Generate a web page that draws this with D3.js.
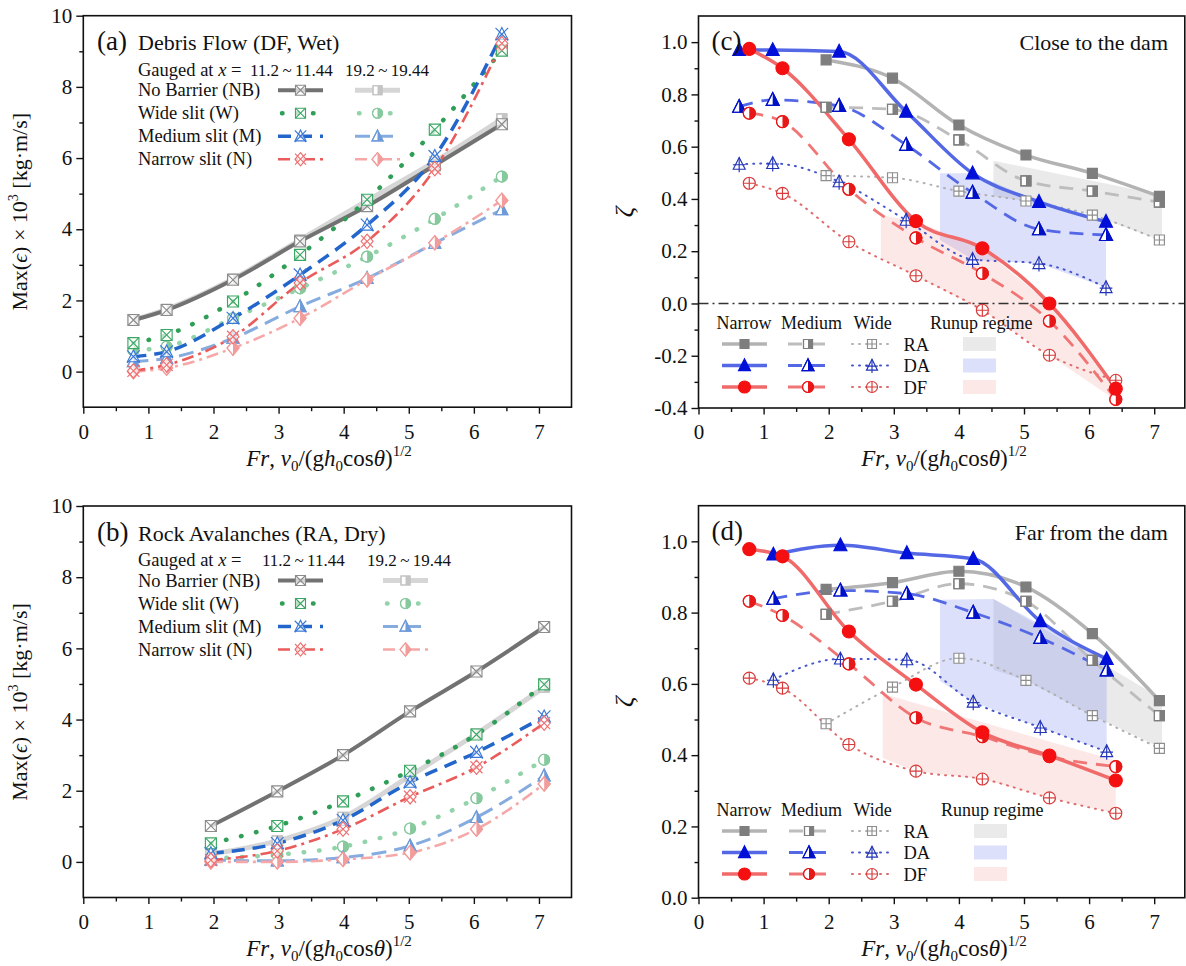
<!DOCTYPE html>
<html><head><meta charset="utf-8">
<script src="https://cdn.jsdelivr.net/npm/d3@7"></script>
<style>
body{margin:0;background:#fff;}
svg{display:block;font-family:"Liberation Serif","Times New Roman",serif;}
</style></head><body>
<svg id="fig" width="1186" height="966"></svg>
<script>
// ---------------- data: momentum flux, panels (a) and (b) ----------------
const FR_A = [0.77, 1.28, 2.30, 3.33, 4.36, 5.40, 6.43];
const A_NB_NEAR = [1.45, 1.73, 2.58, 3.66, 4.65, 5.80, 6.95];
const A_NB_FAR  = [1.45, 1.75, 2.60, 3.70, 4.80, 5.90, 7.10];
const A_W_NEAR  = [0.80, 1.03, 1.97, 3.28, 4.83, 6.80, 9.02];
const A_W_FAR   = [0.60, 0.70, 1.50, 2.34, 3.23, 4.29, 5.48];
const A_M_NEAR  = [0.42, 0.56, 1.50, 2.72, 4.12, 6.05, 9.48];
const A_M_FAR   = [0.28, 0.37, 0.94, 1.83, 2.62, 3.61, 4.55];
const A_N_NEAR  = [0.02, 0.19, 0.98, 2.49, 3.66, 5.70, 9.22];
const A_N_FAR   = [0.00, 0.10, 0.66, 1.50, 2.58, 3.62, 4.81];

const FR_B = [1.96, 2.98, 3.99, 5.02, 6.04, 7.08];
const B_NB_NEAR = [1.01, 1.98, 3.00, 4.23, 5.35, 6.60];
const B_NB_FAR  = [0.22, 0.59, 1.25, 2.42, 3.60, 4.91];
const B_W_NEAR  = [0.52, 1.01, 1.70, 2.56, 3.58, 4.99];
const B_W_FAR   = [0.10, 0.20, 0.43, 0.94, 1.79, 2.87];
const B_M_NEAR  = [0.24, 0.52, 1.17, 2.24, 3.08, 4.08];
const B_M_FAR   = [0.05, 0.03, 0.12, 0.45, 1.25, 2.42];
const B_N_NEAR  = [0.05, 0.31, 0.92, 1.83, 2.66, 3.90];
const B_N_FAR   = [0.00, 0.00, 0.07, 0.26, 0.92, 2.19];

// ---------------- data: zeta, panels (c) and (d) ----------------
const FR_RA   = [1.96, 2.98, 4.00, 5.03, 6.05, 7.08];
const FR_DA_C = [0.625, 1.14, 2.16, 3.19, 4.21, 5.23, 6.26];
const FR_DA_D = [1.15, 2.18, 3.20, 4.22, 5.25, 6.27];
const FR_DF   = [0.78, 1.29, 2.31, 3.34, 4.36, 5.39, 6.41];

const C_RA_N = [0.932, 0.862, 0.683, 0.568, 0.498, 0.410];
const C_RA_M = [0.751, 0.743, 0.626, 0.469, 0.430, 0.388];
const C_RA_W = [0.489, 0.481, 0.430, 0.392, 0.338, 0.243];
const C_DA_N = [0.970, 0.970, 0.964, 0.734, 0.498, 0.389, 0.313];
const C_DA_M = [0.753, 0.779, 0.756, 0.607, 0.424, 0.284, 0.262];
const C_DA_W = [0.533, 0.536, 0.466, 0.319, 0.169, 0.153, 0.061];
const C_DF_N = [0.974, 0.900, 0.628, 0.315, 0.211, 0.000, -0.326];
const C_DF_M = [0.728, 0.696, 0.437, 0.251, 0.115, -0.067, -0.367];
const C_DF_W = [0.460, 0.421, 0.236, 0.106, -0.026, -0.198, -0.294];

const D_RA_N = [0.865, 0.884, 0.916, 0.872, 0.741, 0.553];
const D_RA_M = [0.795, 0.832, 0.881, 0.832, 0.666, 0.511];
const D_RA_W = [0.488, 0.591, 0.672, 0.610, 0.511, 0.419];
const D_DA_N = [0.963, 0.989, 0.967, 0.951, 0.776, 0.670];
const D_DA_M = [0.839, 0.862, 0.853, 0.800, 0.729, 0.638];
const D_DA_W = [0.612, 0.670, 0.668, 0.549, 0.478, 0.410];
const D_DF_N = [0.978, 0.958, 0.747, 0.598, 0.464, 0.399, 0.329];
const D_DF_M = [0.832, 0.792, 0.656, 0.505, 0.452, 0.396, 0.368];
const D_DF_W = [0.616, 0.588, 0.430, 0.355, 0.333, 0.280, 0.237];

// runup-regime bands: upper and lower boundaries as [Fr, zeta]
const C_RUN_RA_TOP = [[4.53, 0.546], [7.12, 0.415]];
const C_RUN_RA_BOT = [[4.53, 0.410], [5.03, 0.392], [6.05, 0.338], [7.12, 0.240]];
const C_RUN_DA_TOP = [[3.71, 0.498], [4.21, 0.498], [5.23, 0.389], [6.26, 0.313]];
const C_RUN_DA_BOT = [[3.71, 0.243], [4.21, 0.169], [5.23, 0.153], [6.26, 0.061]];
const C_RUN_DF_TOP = [[2.80, 0.338], [3.34, 0.315], [4.36, 0.211], [5.39, 0.000], [6.41, -0.326]];
const C_RUN_DF_BOT = [[2.80, 0.174], [3.34, 0.106], [4.36, -0.026], [5.39, -0.198], [6.41, -0.370]];
const D_RUN_RA_TOP = [[4.53, 0.839], [7.12, 0.558]];
const D_RUN_RA_BOT = [[4.53, 0.640], [5.03, 0.610], [6.05, 0.511], [7.12, 0.419]];
const D_RUN_DA_TOP = [[3.71, 0.836], [4.53, 0.838], [6.27, 0.666]];
const D_RUN_DA_BOT = [[3.71, 0.608], [4.22, 0.549], [5.25, 0.478], [6.27, 0.410]];
const D_RUN_DF_TOP = [[2.83, 0.572], [6.41, 0.385]];
const D_RUN_DF_BOT = [[2.83, 0.392], [3.34, 0.355], [4.36, 0.333], [5.39, 0.280], [6.41, 0.237]];

const X_TICKS = [0, 1, 2, 3, 4, 5, 6, 7];
const X_MINOR = [0.5, 1.5, 2.5, 3.5, 4.5, 5.5, 6.5];
const Y_TICKS_AB = [0, 2, 4, 6, 8, 10];
const Y_MINOR_AB = [1, 3, 5, 7, 9];
const Y_TICKS_C = [-0.4, -0.2, 0.0, 0.2, 0.4, 0.6, 0.8, 1.0];
const Y_MINOR_C = [-0.3, -0.1, 0.1, 0.3, 0.5, 0.7, 0.9];
const Y_TICKS_D = [0.0, 0.2, 0.4, 0.6, 0.8, 1.0];
const Y_MINOR_D = [0.1, 0.3, 0.5, 0.7, 0.9];

const LEG_AB = ['No Barrier (NB)', 'Wide slit (W)', 'Medium slit (M)', 'Narrow slit (N)'];
const GAUGES = ['11.2\u2009~\u200911.44', '19.2\u2009~\u200919.44'];
const LEG_CD_COLS = ['Narrow', 'Medium', 'Wide'];
const LEG_CD_ROWS = ['RA', 'DA', 'DF'];

// ---------------- styles ----------------
const ST = {
  NB_NEAR: {color: '#727272', width: 4,   dash: null,        cap: 'butt',  mk: 'sqX',     mc: '#8c8c8c', mf: '#8c8c8c', ms: 11},
  NB_FAR:  {color: '#d6d6d6', width: 5,   dash: null,        cap: 'butt',  mk: 'sqHalf',  mc: '#c4c4c4', mf: '#c4c4c4', ms: 10},
  W_NEAR:  {color: '#2f9e57', width: 4.5, dash: '0.5 15',    cap: 'round', mk: 'sqX',     mc: '#3aa864', mf: '#3aa864', ms: 11},
  W_FAR:   {color: '#93d3aa', width: 4.5, dash: '0.5 15',    cap: 'round', mk: 'circHalf',mc: '#86c99d', mf: '#86c99d', ms: 11},
  M_NEAR:  {color: '#2266cc', width: 3.5, dash: '13 8',      cap: 'butt',  mk: 'triX',    mc: '#3a78d6', mf: '#3a78d6', ms: 12},
  M_FAR:   {color: '#86acdf', width: 3,   dash: '15 8',      cap: 'butt',  mk: 'triHalf', mc: '#6f9ada', mf: '#6f9ada', ms: 12},
  N_NEAR:  {color: '#ea5c5c', width: 2.6, dash: '12 5 3 5',  cap: 'butt',  mk: 'diaX',    mc: '#ee7070', mf: '#ee7070', ms: 12},
  N_FAR:   {color: '#f6a8a8', width: 2.6, dash: '12 5 3 5',  cap: 'butt',  mk: 'diaHalf', mc: '#f29c9c', mf: '#f29c9c', ms: 12},

  RA_N: {color: '#b3b3b3', width: 3.5, dash: null,   cap: 'butt',  mk: 'sqFill',  mc: '#7e7e7e', mf: '#7e7e7e', ms: 10},
  RA_M: {color: '#bdbdbd', width: 2.8, dash: '14 9', cap: 'butt',  mk: 'sqHalf',  mc: '#7e7e7e', mf: '#7e7e7e', ms: 10},
  RA_W: {color: '#b0b0b0', width: 2,   dash: '1 6',  cap: 'round', mk: 'sqPlus',  mc: '#8e8e8e', mf: '#8e8e8e', ms: 10},
  DA_N: {color: '#5468e6', width: 3.5, dash: null,   cap: 'butt',  mk: 'triFill', mc: '#0010d8', mf: '#0010d8', ms: 13},
  DA_M: {color: '#5468e6', width: 2.8, dash: '14 9', cap: 'butt',  mk: 'triHalf', mc: '#0010c8', mf: '#0010c8', ms: 13},
  DA_W: {color: '#4656cc', width: 2,   dash: '1 6',  cap: 'round', mk: 'triPlus', mc: '#2233b8', mf: '#2233b8', ms: 12},
  DF_N: {color: '#f06a6a', width: 3.5, dash: null,   cap: 'butt',  mk: 'circFill',mc: '#f41010', mf: '#f41010', ms: 13},
  DF_M: {color: '#f07676', width: 2.8, dash: '14 9', cap: 'butt',  mk: 'circHalf',mc: '#e81818', mf: '#e81818', ms: 12},
  DF_W: {color: '#e06a6a', width: 2,   dash: '1 6',  cap: 'round', mk: 'circPlus',mc: '#d83a3a', mf: '#d83a3a', ms: 12}
};
const RUN_FILL = {RA: 'rgba(185,185,185,0.30)', DA: 'rgba(120,130,240,0.25)', DF: 'rgba(245,150,150,0.22)'};

const svg = d3.select('#fig');
const FONT = 'Liberation Serif, Times New Roman, serif';

// ---------------- helpers ----------------
function mark(g, type, x, y, s, stroke, fill) {
  const h = s / 2;
  const m = g.append('g').attr('transform', `translate(${x},${y})`);
  const sw = 1.15;
  const P = (d, f) => m.append('path').attr('d', d).attr('fill', f).attr('stroke', stroke).attr('stroke-width', sw);
  const F = (d) => m.append('path').attr('d', d).attr('fill', fill).attr('stroke', 'none');
  const sq = `M${-h},${-h}H${h}V${h}H${-h}Z`;
  const t1 = -h * 1.12, t2 = h * 0.85;
  const tri = `M0,${t1}L${h},${t2}L${-h},${t2}Z`;
  const triR = `M0,${t1}L${h},${t2}L0,${t2}Z`;
  const dia = `M0,${-h * 1.2}L${h},0L0,${h * 1.2}L${-h},0Z`;
  const diaR = `M0,${-h * 1.2}L${h},0L0,${h * 1.2}Z`;
  const circ = `M${-h},0A${h},${h} 0 1 1 ${h},0A${h},${h} 0 1 1 ${-h},0Z`;
  const circR = `M0,${-h}A${h},${h} 0 0 1 0,${h}Z`;
  const wash = 'rgba(255,255,255,0.7)';
  switch (type) {
    case 'sqFill': P(sq, fill); break;
    case 'sqX': P(sq, wash); P(`M${-h},${-h}L${h},${h}M${-h},${h}L${h},${-h}`, 'none'); break;
    case 'sqPlus': P(sq, '#fff'); P(`M0,${-h}V${h}M${-h},0H${h}`, 'none'); break;
    case 'sqHalf': P(sq, '#fff'); F(`M0,${-h}H${h}V${h}H0Z`); P(sq, 'none'); break;
    case 'triFill': P(tri, fill); break;
    case 'triHalf': P(tri, '#fff'); F(triR); P(tri, 'none'); break;
    case 'triPlus': P(tri, '#fff'); P(`M0,${t1}V${h * 1.35}M${-h * 1.05},${h * 0.1}H${h * 1.05}`, 'none'); break;
    case 'triX': P(tri, wash); P(`M${-h * 1.05},${-h * 1.05}L${h * 1.05},${h * 1.05}M${-h * 1.05},${h * 1.05}L${h * 1.05},${-h * 1.05}`, 'none'); break;
    case 'circFill': P(circ, fill); break;
    case 'circHalf': P(circ, '#fff'); F(circR); P(circ, 'none'); break;
    case 'circPlus': P(circ, '#fff'); P(`M0,${-h}V${h}M${-h},0H${h}`, 'none'); break;
    case 'diaX': P(dia, wash); P(`M${-h},${-h}L${h},${h}M${-h},${h}L${h},${-h}`, 'none'); break;
    case 'diaHalf': P(dia, '#fff'); F(diaR); P(dia, 'none'); break;
  }
}

function strokeLine(sel, st) {
  sel.attr('fill', 'none').attr('stroke', st.color).attr('stroke-width', st.width)
     .attr('stroke-linecap', st.cap).attr('stroke-dasharray', st.dash);
  return sel;
}

function drawSeries(gl, gm, sx, sy, list) {
  const line = d3.line().curve(d3.curveMonotoneX).x(d => sx(d[0])).y(d => sy(d[1]));
  list.forEach(s => strokeLine(gl.append('path').attr('d', line(d3.zip(s.x, s.y))), s.st));
  list.forEach(s => s.x.forEach((xv, i) => mark(gm, s.st.mk, sx(xv), sy(s.y[i]), s.st.ms, s.st.mc, s.st.mf)));
}

function axes(g, sx, sy, yT, yM, yFmt) {
  const bottom = sy.range()[0], top = sy.range()[1], left = sx.range()[0], right = sx.range()[1];
  const tidy = (sel) => {
    sel.select('.domain').remove();
    sel.attr('font-family', null).attr('font-size', null);
    sel.selectAll('text').attr('font-family', FONT).attr('font-size', 21).attr('fill', '#111');
    sel.selectAll('line').attr('stroke', '#111').attr('stroke-width', 1.4);
  };
  g.append('g').attr('transform', `translate(0,${bottom})`)
    .call(d3.axisBottom(sx).tickValues(X_MINOR).tickSize(4).tickFormat('')).call(tidy);
  g.append('g').attr('transform', `translate(0,${bottom})`)
    .call(d3.axisBottom(sx).tickValues(X_TICKS).tickSize(6.5).tickPadding(10).tickFormat(d3.format('d'))).call(tidy);
  g.append('g').attr('transform', `translate(${left},0)`)
    .call(d3.axisLeft(sy).tickValues(yM).tickSize(4).tickFormat('')).call(tidy);
  g.append('g').attr('transform', `translate(${left},0)`)
    .call(d3.axisLeft(sy).tickValues(yT).tickSize(7).tickPadding(4).tickFormat(yFmt)).call(tidy);
  g.append('rect').attr('x', left).attr('y', top).attr('width', right - left).attr('height', bottom - top)
    .attr('fill', 'none').attr('stroke', '#111').attr('stroke-width', 1.6);
}

function frTitle(g, cx, y) {
  const t = g.append('text').attr('x', cx).attr('y', y).attr('text-anchor', 'middle')
    .attr('font-size', 23).attr('font-family', FONT).attr('fill', '#111');
  const parts = [['Fr', 'i', 0], [', ', 'n', 0], ['v', 'i', 0], ['0', 's', 5], ['/(g', 'n', -5], ['h', 'i', 0],
                 ['0', 's', 5], ['cos', 'n', -5], ['θ', 'i', 0], [')', 'n', 0], ['1/2', 's', -10]];
  parts.forEach(([txt, k, dy]) => {
    const sp = t.append('tspan').text(txt).attr('dy', dy);
    if (k === 'i') sp.attr('font-style', 'italic');
    if (k === 's') sp.attr('font-size', 15);
  });
}

function momentumTitle(g, cx, cy) {
  const t = g.append('text').attr('transform', `translate(${cx},${cy}) rotate(-90)`).attr('text-anchor', 'middle')
    .attr('font-size', 22).attr('font-family', FONT).attr('fill', '#111');
  t.append('tspan').text('Max(');
  t.append('tspan').text('ϵ').attr('font-style', 'italic');
  t.append('tspan').text(') × 10');
  t.append('tspan').text('3').attr('font-size', 14).attr('dy', -9);
  t.append('tspan').text(' [kg·m/s]').attr('dy', 9);
}

function txt(g, x, y, s, fs, opt = {}) {
  const t = g.append('text').attr('x', x).attr('y', y).attr('font-size', fs).attr('font-family', FONT)
    .attr('fill', '#111').attr('text-anchor', opt.anchor || 'start').text(s);
  if (opt.italic) t.attr('font-style', 'italic');
  return t;
}

// ---------------- panels (a) and (b) ----------------
function momentumPanel(top, tag, title, xs, nb1, nb2, w1, w2, m1, m2, n1, n2, gaugeX) {
  const g = svg.append('g');
  const sx = d3.scaleLinear().domain([0, 7.5]).range([83.3, 571.5]);
  const sy = d3.scaleLinear().domain([-1, 10]).range([top + 391.5, top]);
  const gl = g.append('g'), gm = g.append('g');
  drawSeries(gl, gm, sx, sy, [
    {x: xs, y: nb2, st: ST.NB_FAR}, {x: xs, y: w2, st: ST.W_FAR}, {x: xs, y: m2, st: ST.M_FAR}, {x: xs, y: n2, st: ST.N_FAR},
    {x: xs, y: nb1, st: ST.NB_NEAR}, {x: xs, y: w1, st: ST.W_NEAR}, {x: xs, y: m1, st: ST.M_NEAR}, {x: xs, y: n1, st: ST.N_NEAR}
  ]);
  axes(g, sx, sy, Y_TICKS_AB, Y_MINOR_AB, d3.format('d'));

  // panel heading and legend
  txt(g, 97, top + 34.5, tag, 27);
  txt(g, 138, top + 34.5, title, 22);
  const gt = txt(g, 138, top + 60, 'Gauged at ', 18.5);
  gt.append('tspan').text('x').attr('font-style', 'italic');
  gt.append('tspan').text(' =');
  txt(g, gaugeX[0], top + 60, GAUGES[0], 17);
  txt(g, gaugeX[1], top + 60, GAUGES[1], 17);
  const pairs = [[ST.NB_NEAR, ST.NB_FAR], [ST.W_NEAR, ST.W_FAR], [ST.M_NEAR, ST.M_FAR], [ST.N_NEAR, ST.N_FAR]];
  LEG_AB.forEach((lab, i) => {
    const cy = top + 74.5 + i * 23;
    txt(g, 138, cy + 6, lab, 18.5);
    [[278, 323, pairs[i][0]], [gaugeX[2], gaugeX[2] + 45, pairs[i][1]]].forEach(([a, b, st]) => {
      strokeLine(g.append('path').attr('d', `M${a},${cy}H${b}`), st)
        .attr('stroke-dashoffset', st.dash && st.dash.startsWith('0.5') ? -4 : 0);
      mark(g, st.mk, (a + b) / 2, cy, st.ms - 1, st.mc, st.mf);
    });
  });
  momentumTitle(g, 27, top + 196);
  frTitle(g, 329, top + 450);
}
momentumPanel(15.7, '(a)', 'Debris Flow (DF, Wet)', FR_A,
  A_NB_NEAR, A_NB_FAR, A_W_NEAR, A_W_FAR, A_M_NEAR, A_M_FAR, A_N_NEAR, A_N_FAR, [250, 345, 355]);
momentumPanel(506, '(b)', 'Rock Avalanches (RA, Dry)', FR_B,
  B_NB_NEAR, B_NB_FAR, B_W_NEAR, B_W_FAR, B_M_NEAR, B_M_FAR, B_N_NEAR, B_N_FAR, [262, 367, 383]);

// ---------------- panels (c) and (d) ----------------
function zetaPanel(top, tag, note, yDom, yT, yM, fr_da, ra, da, df, runs, legX) {
  const g = svg.append('g');
  const sx = d3.scaleLinear().domain([0, 7.47]).range([698.5, 1184.8]);
  const sy = d3.scaleLinear().domain(yDom).range([top + 392, top]);
  const poly = d3.line().x(d => sx(d[0])).y(d => sy(d[1]));
  ['RA', 'DA', 'DF'].forEach(k => {
    const [tp, bt] = runs[k];
    g.append('path').attr('d', poly(tp.concat(bt.slice().reverse())) + 'Z').attr('fill', RUN_FILL[k]);
  });
  if (yDom[0] < 0) {
    g.append('path').attr('d', `M${sx(0)},${sy(0)}H${sx(7.47)}`).attr('stroke', '#333')
      .attr('stroke-width', 1.5).attr('stroke-dasharray', '10 4 2 4').attr('fill', 'none');
  }
  const gl = g.append('g'), gm = g.append('g');
  drawSeries(gl, gm, sx, sy, [
    {x: FR_RA, y: ra[2], st: ST.RA_W}, {x: fr_da, y: da[2], st: ST.DA_W}, {x: FR_DF, y: df[2], st: ST.DF_W},
    {x: FR_RA, y: ra[1], st: ST.RA_M}, {x: fr_da, y: da[1], st: ST.DA_M}, {x: FR_DF, y: df[1], st: ST.DF_M},
    {x: FR_RA, y: ra[0], st: ST.RA_N}, {x: fr_da, y: da[0], st: ST.DA_N}, {x: FR_DF, y: df[0], st: ST.DF_N}
  ]);
  axes(g, sx, sy, yT, yM, d => d.toFixed(1));

  txt(g, 711.5, top + 34, tag, 27);
  txt(g, 1168, top + 34, note, 22, {anchor: 'end'});

  // legend: line style by slit width, colour by flow type, swatch for runup regime
  const hy = legX.y;
  txt(g, 716.5, hy + 6, LEG_CD_COLS[0], 18);
  txt(g, 781, hy + 6, LEG_CD_COLS[1], 18);
  txt(g, 853.5, hy + 6, LEG_CD_COLS[2], 18);
  txt(g, legX.runup, hy + 6, 'Runup regime', 18);
  const rowsSt = [[ST.RA_N, ST.RA_M, ST.RA_W], [ST.DA_N, ST.DA_M, ST.DA_W], [ST.DF_N, ST.DF_M, ST.DF_W]];
  const cols = [[722, 767], [legX.m, legX.m + 40], [852, 892]];
  LEG_CD_ROWS.forEach((lab, r) => {
    const cy = hy + 21 + r * 21.5;
    rowsSt[r].forEach((st, c) => {
      const [a, b] = cols[c];
      strokeLine(g.append('path').attr('d', `M${a},${cy}H${b}`), st);
      mark(g, st.mk, (a + b) / 2, cy, st.ms - 1, st.mc, st.mf);
    });
    txt(g, 903.5, cy + 6.5, lab, 18.5);
    g.append('rect').attr('x', legX.sw).attr('y', cy - 7).attr('width', 33).attr('height', 14).attr('fill', RUN_FILL[lab]);
  });

  g.append('text').attr('transform', `translate(633,${top + 196}) rotate(-90)`).attr('text-anchor', 'middle')
    .attr('font-size', 26).attr('font-style', 'italic').attr('font-family', FONT).attr('fill', '#111').text('ζ');
  frTitle(g, 944, top + 450);
}
zetaPanel(16, '(c)', 'Close to the dam', [-0.4, 1.1], Y_TICKS_C, Y_MINOR_C, FR_DA_C,
  [C_RA_N, C_RA_M, C_RA_W], [C_DA_N, C_DA_M, C_DA_W], [C_DF_N, C_DF_M, C_DF_W],
  {RA: [C_RUN_RA_TOP, C_RUN_RA_BOT], DA: [C_RUN_DA_TOP, C_RUN_DA_BOT], DF: [C_RUN_DF_TOP, C_RUN_DF_BOT]},
  {y: 323, runup: 930, sw: 963, m: 788});
zetaPanel(505.7, '(d)', 'Far from the dam', [0, 1.1], Y_TICKS_D, Y_MINOR_D, FR_DA_D,
  [D_RA_N, D_RA_M, D_RA_W], [D_DA_N, D_DA_M, D_DA_W], [D_DF_N, D_DF_M, D_DF_W],
  {RA: [D_RUN_RA_TOP, D_RUN_RA_BOT], DA: [D_RUN_DA_TOP, D_RUN_DA_BOT], DF: [D_RUN_DF_TOP, D_RUN_DF_BOT]},
  {y: 810, runup: 941, sw: 974, m: 789});
</script>
</body></html>
